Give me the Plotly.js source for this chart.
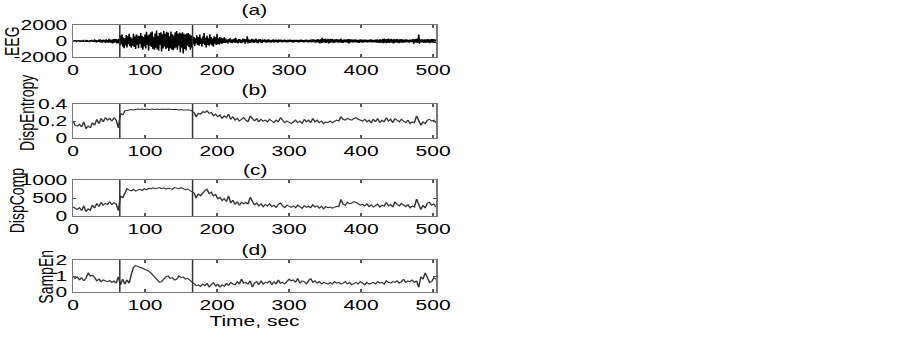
<!DOCTYPE html>
<html>
<head>
<meta charset="utf-8">
<script src="https://cdn.plot.ly/plotly-3.0.1.min.js"></script>
<style>
html,body{margin:0;padding:0;background:#fff;overflow:hidden;}
#wrap{width:903px;height:337px;overflow:hidden;}
#chart{width:602px;height:337px;transform:scaleX(1.5);transform-origin:0 0;}
</style>
</head>
<body>
<div id="wrap"><div id="chart"></div></div>
<script>
// ---------- data ----------
var eegStep = 1;      // seconds between EEG samples
var featStep = 3;     // seconds between feature samples
var seizureMarks = [65, 166];
var xTickVals = [0, 100, 200, 300, 400, 500];
var panelLabels = ['(a)', '(b)', '(c)', '(d)'];
var yTitles = ['EEG', 'DispEntropy', 'DispComp', 'SampEn'];
var xTitle = 'Time, sec';

var eeg = [
50,-80,120,-60,90,-150,70,-40,110,-90,
60,-120,80,-70,140,-100,50,-60,130,-110,
90,-80,60,-140,100,-50,150,-120,80,-90,
200,-150,120,-180,90,-100,160,-130,220,-170,
110,-200,180,-120,150,-250,200,-160,130,-220,
260,-180,190,-240,150,-300,230,-200,280,-170,
250,-310,200,-260,300,
-600,700,-400,800,-700,450,-900,350,-550,750,
-800,600,-400,900,-650,500,-850,300,-600,950,
-750,550,-1000,800,-450,700,-900,600,-350,1000,
-850,650,-1100,500,-700,800,-950,1150,-500,700,
-1200,850,-600,1050,-750,1200,-1000,500,-1100,950,
-850,1300,-1050,600,-1200,1000,-500,1100,-1300,850,
-950,1250,-700,900,-1000,1150,-850,1050,-1250,600,
-900,1200,-1050,850,-1150,700,-950,1100,-800,1250,
-1100,900,-600,1050,-1400,950,-850,1100,-1550,900,
-1000,800,-1200,950,-600,1000,-750,850,-1100,700,
-800,
600,-400,500,-650,350,-300,700,-500,450,-600,
800,-400,300,-700,550,-350,1000,-500,400,-800,
650,-450,350,-600,850,-400,500,-550,300,-700,
600,-350,450,-500,900,-400,350,-450,500,-300,
400,-350,300,-250,450,
-250,300,-200,150,-300,250,-150,350,-200,180,
-280,220,-150,300,-250,400,-200,150,-300,250,
-180,220,-260,150,-200,300,-150,250,-350,200,
-150,600,-300,200,-250,150,-200,280,-180,220,
-250,180,-150,300,-200,150,-280,220,-160,250,
-200,150,-250,180,-120,200,-180,150,-220,180,
-150,200,-180,120,-200,160,-140,220,-180,150,
-130,180,-160,140,-200,170,-120,190,-150,130,
-170,140,-110,180,-150,120,-190,160,-130,150,
-120,170,-140,110,-160,130,-180,150,-110,140,
-150,130,-170,120,-140,160,-110,150,-130,120,
-160,140,-120,180,-150,110,-170,130,-140,160,
-180,200,-150,220,-170,150,-200,180,-160,250,
-220,180,-300,200,-250,400,-200,230,-180,300,
-250,220,-180,260,-300,200,-220,280,-190,240,
-210,180,-250,200,-160,230,-190,170,-220,200,
-180,300,-200,160,-240,190,-170,220,-150,180,
-200,250,-300,200,-180,220,-160,190,-210,170,
-150,200,-180,160,-200,150,-230,180,-170,200,
-190,150,-210,170,-140,190,-160,150,-180,160,
-150,180,-130,200,-170,140,-190,160,-150,180,
-200,220,-180,160,-250,200,-220,180,-200,240,
-260,300,-220,200,-280,250,-200,320,-240,200,
-180,260,-220,180,-300,240,-200,210,-170,250,
-220,190,-260,210,-180,230,-200,170,-210,190,
-170,200,-150,180,-190,160,-200,170,-140,190,
-160,250,-350,200,-180,250,-200,300,-220,800,
-350,200,-180,220,-160,190,-230,210,-200,180,
-200,250,-180,220,-260,200,-190,230,-210,250,
-230,200,-250,180
];

var dispEntropy = [
0.20,0.15,0.14,0.16,0.13,0.19,0.11,0.14,0.12,0.18,
0.15,0.22,0.17,0.23,0.19,0.24,0.21,0.23,0.20,0.24,
0.21,0.12,0.29,0.27,0.32,0.33,0.33,0.335,0.33,0.335,
0.34,0.335,0.34,0.335,0.34,0.335,0.34,0.34,0.335,0.34,
0.335,0.34,0.34,0.335,0.34,0.335,0.335,0.34,0.335,0.33,
0.335,0.33,0.33,0.325,0.33,0.32,0.30,0.25,0.29,0.28,
0.31,0.30,0.32,0.29,0.30,0.26,0.28,0.25,0.27,0.23,
0.26,0.24,0.28,0.22,0.25,0.21,0.23,0.20,0.22,0.24,
0.21,0.19,0.26,0.22,0.20,0.23,0.19,0.22,0.20,0.21,
0.19,0.22,0.20,0.18,0.21,0.19,0.24,0.21,0.18,0.20,
0.19,0.17,0.19,0.21,0.18,0.20,0.17,0.22,0.19,0.21,
0.18,0.23,0.19,0.21,0.18,0.20,0.17,0.19,0.18,0.20,
0.18,0.19,0.21,0.20,0.25,0.22,0.21,0.23,0.22,0.21,
0.23,0.24,0.22,0.21,0.20,0.22,0.19,0.21,0.18,0.22,
0.19,0.23,0.18,0.21,0.19,0.24,0.20,0.22,0.18,0.23,
0.21,0.19,0.22,0.20,0.18,0.21,0.17,0.19,0.18,0.26,
0.20,0.15,0.19,0.17,0.21,0.22,0.20,0.21,0.18
];

var dispComp = [
250,200,180,230,150,280,120,200,160,300,
220,350,260,380,300,350,320,400,310,370,
330,150,560,500,650,760,720,700,740,690,
720,740,710,760,730,770,750,780,760,770,
790,760,780,750,770,760,740,790,770,760,
790,760,730,750,720,690,640,500,620,560,
650,700,750,620,660,560,600,480,520,430,
480,400,560,360,440,320,400,300,380,340,
380,330,520,380,300,360,280,340,260,320,
280,340,260,300,240,320,360,280,230,300,
260,240,280,230,300,250,210,290,240,270,
230,310,250,280,220,270,200,260,230,250,
220,240,270,260,460,330,300,380,340,360,
400,380,350,300,320,280,340,260,310,250,
290,330,250,300,270,380,280,320,250,400,
320,280,350,300,260,320,230,280,250,470,
330,180,300,220,360,380,300,330,250
];

var sampEn = [
1.0,0.85,0.95,0.75,0.9,0.7,0.85,1.2,1.0,1.05,
0.9,0.7,0.8,0.65,0.75,0.7,0.65,0.72,0.6,0.68,
0.55,0.95,0.45,0.8,0.5,0.75,0.55,1.1,1.55,1.65,
1.62,1.55,1.5,1.45,1.35,1.3,1.2,1.05,0.9,0.75,
0.6,0.65,0.8,0.95,1.0,0.85,0.9,0.75,0.8,1.0,
0.9,0.95,0.8,0.85,0.75,0.65,0.5,0.4,0.45,0.35,
0.5,0.4,0.55,0.3,0.45,0.6,0.35,0.5,0.3,0.45,
0.35,0.55,0.4,0.6,0.5,0.45,0.65,0.5,0.8,0.55,
0.6,0.5,0.7,0.3,0.55,0.65,0.45,0.7,0.5,0.6,
0.55,0.7,0.45,0.65,0.5,0.75,0.55,0.6,0.5,0.65,
0.8,0.7,0.75,0.6,0.85,0.55,0.7,0.65,0.5,0.7,
0.85,0.6,0.7,0.55,0.65,0.5,0.6,0.55,0.5,0.6,
0.5,0.65,0.55,0.6,0.5,0.55,0.65,0.5,0.6,0.45,
0.55,0.6,0.5,0.65,0.55,0.45,0.6,0.5,0.55,0.6,
0.5,0.65,0.55,0.6,0.5,0.7,0.6,0.55,0.65,0.6,
0.7,0.55,0.65,0.8,0.6,0.7,0.65,0.75,0.6,0.7,
0.3,0.95,0.8,1.2,0.9,0.6,0.65,0.9,0.8
];

var yRanges = [[-2000, 2000], [0, 0.4], [0, 1000], [0, 2]];
var yTickVals = [[-2000, 0, 2000], [0, 0.2, 0.4], [0, 500, 1000], [0, 1, 2]];
var yTickText = [['-2000', '0', '2000'], ['0', '0.2', '0.4'], ['0', '500', '1000'], ['0', '1', '2']];

// ---------- build ----------
function times(arr, step) { return arr.map(function (_, i) { return i * step; }); }

var series = [eeg, dispEntropy, dispComp, sampEn];
var steps = [eegStep, featStep, featStep, featStep];
var lineColors = ['#000000', '#333333', '#333333', '#333333'];

// The reference figure is stretched horizontally by ~1.5; the plot is drawn
// in a 602-px-wide div and scaled by CSS to the 903-px page.
var S = 1.5;
var W = 602, H = 337;
var xL = 73 / S, xR = 436 / S;
var panelPx = [[25, 57], [104, 138], [180, 216], [260, 292]];
var titleY = [10, 90, 170, 250];
var yTitleX = [12 / S, 27 / S, 17 / S, 46 / S];
var yTitleY = [41, 113, 200, 277];

var FONT = 'Liberation Sans, Arial, sans-serif';
var fs = 14;

var traces = [];
var layout = {
  width: W, height: H,
  margin: {l: 0, r: 0, t: 0, b: 0},
  paper_bgcolor: '#ffffff', plot_bgcolor: '#ffffff',
  showlegend: false,
  font: {family: FONT, size: fs, color: '#000'},
  shapes: [], annotations: []
};

for (var k = 0; k < 4; k++) {
  var sfx = k === 0 ? '' : String(k + 1);
  traces.push({
    x: times(series[k], steps[k]), y: series[k],
    xaxis: 'x' + sfx, yaxis: 'y' + sfx,
    type: 'scatter', mode: 'lines',
    line: {color: lineColors[k], width: 1},
    hoverinfo: 'skip'
  });
  var pTop = panelPx[k][0], pBot = panelPx[k][1];
  layout['xaxis' + sfx] = {
    domain: [xL / W, xR / W], anchor: 'y' + sfx,
    range: [0, 504], tickvals: xTickVals, ticktext: xTickVals.map(String),
    ticks: 'inside', ticklen: 3, tickcolor: '#555', tickwidth: 1,
    showline: true, linecolor: '#777', linewidth: 1, mirror: 'ticks',
    showgrid: false, zeroline: false,
    tickfont: {family: FONT, size: fs, color: '#000'}
  };
  if (k === 3) {
    layout['xaxis' + sfx].title = {text: xTitle, font: {family: FONT, size: fs, color: '#000'}, standoff: 1};
  }
  layout['yaxis' + sfx] = {
    domain: [1 - pBot / H, 1 - pTop / H], anchor: 'x' + sfx,
    range: yRanges[k], tickvals: yTickVals[k], ticktext: yTickText[k],
    ticks: 'inside', ticklen: 2, tickcolor: '#555', tickwidth: 1,
    showline: true, linecolor: '#777', linewidth: 1, mirror: 'ticks',
    showgrid: false, zeroline: false,
    tickfont: {family: FONT, size: fs, color: '#000'}
  };
  seizureMarks.forEach(function (m) {
    layout.shapes.push({
      type: 'line', xref: 'x' + sfx, yref: 'y' + sfx + ' domain',
      x0: m, x1: m, y0: 0, y1: 1,
      line: {color: '#333', width: 1}
    });
  });
  layout.annotations.push({
    text: panelLabels[k], xref: 'paper', yref: 'paper',
    x: ((xL + xR) / 2) / W, y: 1 - titleY[k] / H,
    xanchor: 'center', yanchor: 'middle', showarrow: false,
    font: {family: FONT, size: fs, color: '#000'}
  });
  layout.annotations.push({
    text: yTitles[k], xref: 'paper', yref: 'paper',
    x: yTitleX[k] / W, y: 1 - yTitleY[k] / H, textangle: -90,
    xanchor: 'center', yanchor: 'middle', showarrow: false,
    font: {family: FONT, size: fs, color: '#000'}
  });
}

Plotly.newPlot('chart', traces, layout, {displayModeBar: false, staticPlot: true});
</script>
</body>
</html>
